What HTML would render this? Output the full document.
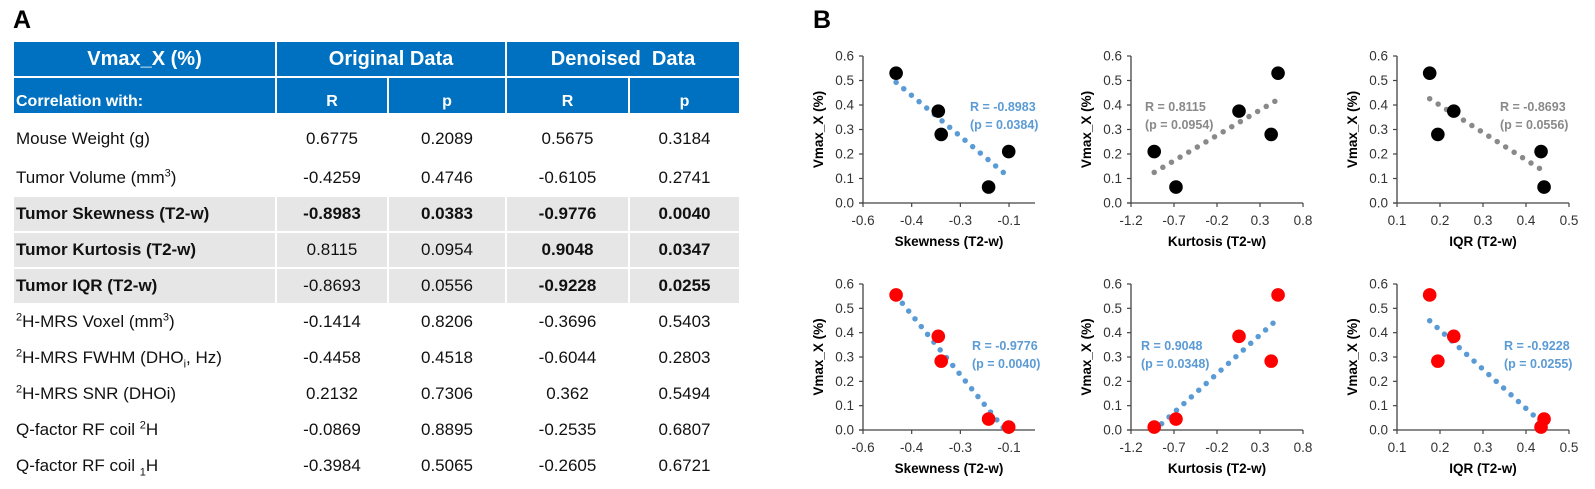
<!DOCTYPE html>
<html><head><meta charset="utf-8">
<style>
html,body{margin:0;padding:0;background:#fff;}
body{width:1595px;height:489px;position:relative;overflow:hidden;font-family:"Liberation Sans",sans-serif;}
.lbl{position:absolute;font-weight:bold;font-size:25px;color:#000;}
table{position:absolute;left:12px;top:40px;border-collapse:separate;border-spacing:2px;table-layout:fixed;width:729px;font-size:17px;color:#111;}
td{padding:0;text-align:center;white-space:nowrap;overflow:hidden;}
td.f{text-align:left;padding-left:2px;}
tr.h1 td{background:#0070C0;color:#fff;font-weight:bold;font-size:20px;height:34px;}
tr.h2 td{background:#0070C0;color:#fff;font-weight:bold;font-size:16px;height:33px;vertical-align:bottom;padding-bottom:2px;}
tr.d td{height:34px;}
tr.first td{height:40px;padding-top:4px;}
tr.g td{background:#E7E6E6;font-weight:bold;}
tr.g td.nb{font-weight:normal;}
sup,sub{font-size:11px;line-height:0;}
svg{position:absolute;left:0;top:0;}
</style></head>
<body>
<div class="lbl" style="left:13px;top:6px;">A</div>
<div class="lbl" style="left:813px;top:6px;">B</div>

<table>
<colgroup><col style="width:261px"><col style="width:110px"><col style="width:116px"><col style="width:121px"><col style="width:109px"></colgroup>
<tr class="h1"><td>Vmax_X (%)</td><td colspan="2">Original Data</td><td colspan="2">Denoised&nbsp; Data</td></tr>
<tr class="h2"><td class="f">Correlation with:</td><td>R</td><td>p</td><td>R</td><td>p</td></tr>
<tr class="d first"><td class="f">Mouse Weight (g)</td><td>0.6775</td><td>0.2089</td><td>0.5675</td><td>0.3184</td></tr>
<tr class="d"><td class="f">Tumor Volume (mm<sup>3</sup>)</td><td>-0.4259</td><td>0.4746</td><td>-0.6105</td><td>0.2741</td></tr>
<tr class="d g"><td class="f">Tumor Skewness (T2-w)</td><td>-0.8983</td><td>0.0383</td><td>-0.9776</td><td>0.0040</td></tr>
<tr class="d g"><td class="f">Tumor Kurtosis (T2-w)</td><td class="nb">0.8115</td><td class="nb">0.0954</td><td>0.9048</td><td>0.0347</td></tr>
<tr class="d g"><td class="f">Tumor IQR (T2-w)</td><td class="nb">-0.8693</td><td class="nb">0.0556</td><td>-0.9228</td><td>0.0255</td></tr>
<tr class="d"><td class="f"><sup>2</sup>H-MRS Voxel (mm<sup>3</sup>)</td><td>-0.1414</td><td>0.8206</td><td>-0.3696</td><td>0.5403</td></tr>
<tr class="d"><td class="f"><sup>2</sup>H-MRS FWHM (DHO<sub>i</sub>, Hz)</td><td>-0.4458</td><td>0.4518</td><td>-0.6044</td><td>0.2803</td></tr>
<tr class="d"><td class="f"><sup>2</sup>H-MRS SNR (DHOi)</td><td>0.2132</td><td>0.7306</td><td>0.362</td><td>0.5494</td></tr>
<tr class="d"><td class="f">Q-factor RF coil <sup>2</sup>H</td><td>-0.0869</td><td>0.8895</td><td>-0.2535</td><td>0.6807</td></tr>
<tr class="d"><td class="f">Q-factor RF coil <sub>1</sub>H</td><td>-0.3984</td><td>0.5065</td><td>-0.2605</td><td>0.6721</td></tr>
</table>

<svg id="charts" width="1595" height="489" xmlns="http://www.w3.org/2000/svg"></svg>

<script>
// per-sample data (samples A..E)
const skewness = [-0.498, -0.368, -0.359, -0.151, -0.213];
const kurtosis = [0.51, 0.056, 0.43, -0.93, -0.677];
const iqr = [0.176, 0.232, 0.195, 0.435, 0.442];
const vmaxOriginal = [0.53, 0.375, 0.28, 0.21, 0.065];
const vmaxDenoised = [0.555, 0.385, 0.283, 0.012, 0.045];
const yTicks = [0, 0.1, 0.2, 0.3, 0.4, 0.5, 0.6];
const skewTicks = [-0.6, -0.45, -0.3, -0.15];
const skewTickLabels = ["-0.6", "-0.4", "-0.3", "-0.1"];
const kurtTicks = [-1.2, -0.7, -0.2, 0.3, 0.8];
const kurtTickLabels = ["-1.2", "-0.7", "-0.2", "0.3", "0.8"];
const iqrTicks = [0.1, 0.2, 0.3, 0.4, 0.5];
const iqrTickLabels = ["0.1", "0.2", "0.3", "0.4", "0.5"];
const rLabels = ["R = -0.8983", "R = 0.8115", "R = -0.8693", "R = -0.9776", "R = 0.9048", "R = -0.9228"];
const pLabels = ["(p = 0.0384)", "(p = 0.0954)", "(p = 0.0556)", "(p = 0.0040)", "(p = 0.0348)", "(p = 0.0255)"];

const NS = "http://www.w3.org/2000/svg";
const svg = document.getElementById("charts");
function mk(tag, attrs, parent, text) {
  const e = document.createElementNS(NS, tag);
  for (const k in attrs) e.setAttribute(k, attrs[k]);
  if (text !== undefined) e.textContent = text;
  (parent || svg).appendChild(e);
  return e;
}

const panels = [
  {x0:863,x1:1035,dom:[-0.6,-0.07],xs:skewness,ys:vmaxOriginal,ticks:skewTicks,tl:skewTickLabels,top:true,color:"#000",trend:"#5B9BD5",title:"Skewness (T2-w)",ann:[970,0],key:"skewness-original"},
  {x0:1131,x1:1303,dom:[-1.2,0.8],xs:kurtosis,ys:vmaxOriginal,ticks:kurtTicks,tl:kurtTickLabels,top:true,color:"#000",trend:"#898989",title:"Kurtosis (T2-w)",ann:[1145,1],key:"kurtosis-original"},
  {x0:1397,x1:1569,dom:[0.1,0.5],xs:iqr,ys:vmaxOriginal,ticks:iqrTicks,tl:iqrTickLabels,top:true,color:"#000",trend:"#898989",title:"IQR (T2-w)",ann:[1500,2],key:"iqr-original"},
  {x0:863,x1:1035,dom:[-0.6,-0.07],xs:skewness,ys:vmaxDenoised,ticks:skewTicks,tl:skewTickLabels,top:false,color:"#FF0000",trend:"#5B9BD5",title:"Skewness (T2-w)",ann:[972,3],key:"skewness-denoised"},
  {x0:1131,x1:1303,dom:[-1.2,0.8],xs:kurtosis,ys:vmaxDenoised,ticks:kurtTicks,tl:kurtTickLabels,top:false,color:"#FF0000",trend:"#5B9BD5",title:"Kurtosis (T2-w)",ann:[1141,4],key:"kurtosis-denoised"},
  {x0:1397,x1:1569,dom:[0.1,0.5],xs:iqr,ys:vmaxDenoised,ticks:iqrTicks,tl:iqrTickLabels,top:false,color:"#FF0000",trend:"#5B9BD5",title:"IQR (T2-w)",ann:[1504,5],key:"iqr-denoised"}
];

panels.forEach(p => {
  const yb = p.top ? 203 : 430, yt = p.top ? 56 : 284;
  const sx = v => p.x0 + (v - p.dom[0]) / (p.dom[1] - p.dom[0]) * (p.x1 - p.x0);
  const sy = v => yb - v / 0.6 * (yb - yt);
  const g = mk("g", {});
  
  
  const ya = mk("line", {x1:p.x0,y1:yt,x2:p.x0,y2:yb,stroke:"#444","stroke-width":1.3}, g);
  
  
  const xa = mk("line", {x1:p.x0-4,y1:yb,x2:p.x1,y2:yb,stroke:"#444","stroke-width":1.3}, g);
  
  
  yTicks.forEach(t => {
    mk("line", {x1:p.x0-4,y1:sy(t),x2:p.x0,y2:sy(t),stroke:"#444","stroke-width":1.2}, g);
    const tx = mk("text", {x:p.x0-9,y:sy(t)+4.5,"text-anchor":"end","font-size":13.5,fill:"#333"}, g, t.toFixed(1));
    
    
  });
  p.ticks.forEach((t, i) => {
    mk("line", {x1:sx(t),y1:yb,x2:sx(t),y2:yb+4,stroke:"#444","stroke-width":1.2}, g);
    const tx = mk("text", {x:sx(t),y:yb+22,"text-anchor":"middle","font-size":13.5,fill:"#333"}, g, p.tl[i]);
    
    
  });
  const yt2 = mk("text", {transform:`translate(${p.x0-40},${(yt+yb)/2}) rotate(-90)`,"text-anchor":"middle","font-size":13.5,"font-weight":"bold",fill:"#000"}, g, "Vmax_X (%)");
  
  
  const xt = mk("text", {x:(p.x0+p.x1)/2,y:yb+43,"text-anchor":"middle","font-size":13.5,"font-weight":"bold",fill:"#000"}, g, p.title);
  
  
  const n = p.xs.length;
  const mx = p.xs.reduce((a,b)=>a+b,0)/n, my = p.ys.reduce((a,b)=>a+b,0)/n;
  let sxy = 0, sxx = 0;
  for (let i = 0; i < n; i++) { sxy += (p.xs[i]-mx)*(p.ys[i]-my); sxx += (p.xs[i]-mx)**2; }
  const b = sxy / sxx, a = my - b*mx;
  const xmin = Math.min(...p.xs), xmax = Math.max(...p.xs);
  const tl = mk("line", {x1:sx(xmin),y1:sy(a+b*xmin),x2:sx(xmax),y2:sy(a+b*xmax),stroke:p.trend,"stroke-width":5.5,"stroke-linecap":"round","stroke-dasharray":"0 10"}, g);
  
  
  for (let i = 0; i < n; i++) {
    const c = mk("circle", {cx:sx(p.xs[i]),cy:sy(p.ys[i]),r:6.8,fill:p.color}, g);
    
    
  }
  const ay = p.top ? 111 : 350;
  const r = mk("text", {x:p.ann[0],y:ay,"font-size":12.5,"font-weight":"bold",fill:p.trend}, g, rLabels[p.ann[1]]);
  
  
  const pl = mk("text", {x:p.ann[0],y:ay+18,"font-size":12.5,"font-weight":"bold",fill:p.trend}, g, pLabels[p.ann[1]]);
  
  
});
</script>
</body></html>
